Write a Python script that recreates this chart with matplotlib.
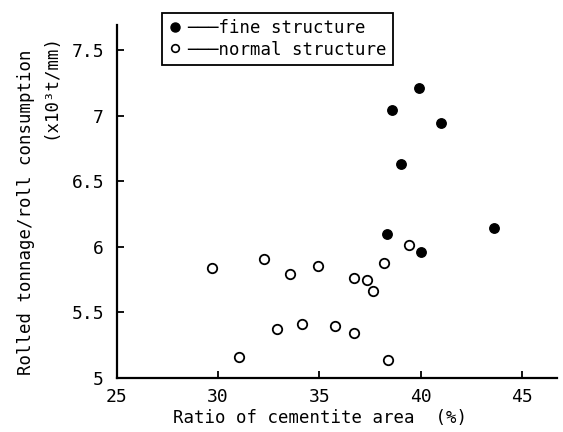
import matplotlib
matplotlib.use("Agg")
import matplotlib.pyplot as plt
from matplotlib.lines import Line2D

## Data
fine_x = [39.9, 38.6, 41.0, 39.0, 38.35, 40.0, 43.6]
fine_y = [7.21, 7.04, 6.94, 6.63, 6.10, 5.96, 6.14]

normal_x = [29.7, 32.25, 33.55, 34.95, 36.7, 37.35, 37.65, 38.2, 39.4,
            32.9, 34.15, 35.75, 36.7, 31.05, 38.4]
normal_y = [5.84, 5.91, 5.79, 5.85, 5.76, 5.75, 5.66, 5.88, 6.01,
            5.37, 5.41, 5.40, 5.34, 5.16, 5.14]

xticks = [25, 30, 35, 40, 45]
yticks = [5, 5.5, 6, 6.5, 7, 7.5]
ytick_labels = ['5', '5.5', '6', '6.5', '7', '7.5']

mono = 'DejaVu Sans Mono'
plt.rcParams['font.family'] = mono

fig = plt.figure(figsize=(5.63, 4.32), dpi=100)
ax = fig.add_axes([0.207, 0.125, 0.782, 0.817])

ax.plot(fine_x, fine_y, 'o', color='black', markersize=6.8, linestyle='none')
ax.plot(normal_x, normal_y, 'o', markerfacecolor='white', markeredgecolor='black',
        markeredgewidth=1.3, markersize=6.8, linestyle='none')

ax.set_xlim(25, 46.7)
ax.set_ylim(5, 7.69)
ax.set_xticks(xticks)
ax.set_yticks(yticks)
ax.set_yticklabels(ytick_labels)
ax.tick_params(direction='in', length=5, width=1.3, labelsize=13)
ax.tick_params(axis='y', pad=9)
ax.tick_params(axis='x', pad=7)

for s in ['top', 'right']:
    ax.spines[s].set_visible(False)
for s in ['left', 'bottom']:
    ax.spines[s].set_linewidth(1.6)

fig.text(0.568, 0.032, 'Ratio of cementite area  (%)', fontsize=12.5,
         ha='center', va='center')
fig.text(0.046, 0.509, 'Rolled tonnage/roll consumption', fontsize=12.5,
         rotation=90, ha='center', va='center')
fig.text(0.089, 0.80, '(x10³t/mm)', fontsize=12.5,
         rotation=90, ha='center', va='center')

handles = [Line2D([], [], marker='o', color='black', linestyle='none', markersize=6.5),
           Line2D([], [], marker='o', markerfacecolor='white', markeredgecolor='black',
                  markeredgewidth=1.2, linestyle='none', markersize=5.5)]
labels = ['───fine structure', '───normal structure']
leg = ax.legend(handles, labels, loc='upper left',
                bbox_to_anchor=(162 / 563, 1 - 13 / 432),
                bbox_transform=fig.transFigure, borderaxespad=0,
                fancybox=False, framealpha=1, edgecolor='black',
                fontsize=12.5, handlelength=0.8, handletextpad=0.3,
                borderpad=0.35, labelspacing=0.2)
leg.get_frame().set_linewidth(1.3)

fig.savefig('out.png', dpi=100)
